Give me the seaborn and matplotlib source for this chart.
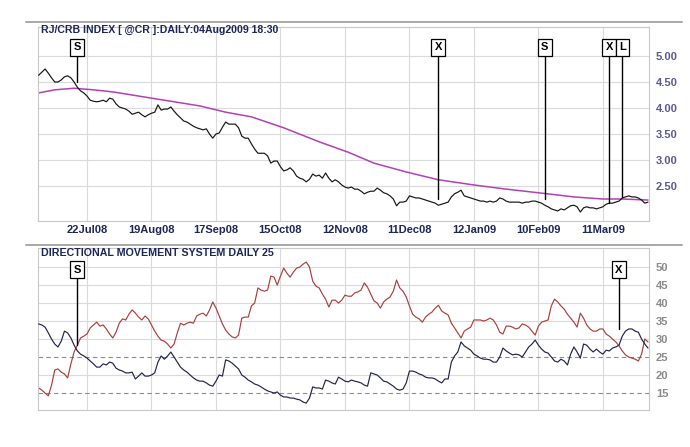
import numpy as np
import pandas as pd
import matplotlib
matplotlib.use("Agg")
import matplotlib.pyplot as plt
from matplotlib.lines import Line2D
import seaborn as sns

# ---------------- data ----------------
price = [4.63, 4.69, 4.75, 4.67, 4.58, 4.50, 4.50, 4.54, 4.60, 4.62,
         4.58, 4.50, 4.40, 4.33, 4.29, 4.23, 4.15, 4.13, 4.12, 4.13,
         4.15, 4.12, 4.19, 4.17, 4.08, 4.02, 4.00, 3.98, 3.94, 3.88,
         3.90, 3.92, 3.87, 3.83, 3.87, 3.90, 3.92, 4.06, 3.96, 3.98,
         3.98, 4.02, 3.94, 3.87, 3.81, 3.75, 3.73, 3.69, 3.65, 3.62,
         3.60, 3.58, 3.60, 3.50, 3.42, 3.50, 3.52, 3.63, 3.73, 3.69,
         3.69, 3.69, 3.62, 3.46, 3.42, 3.42, 3.31, 3.21, 3.13, 3.13,
         3.13, 3.08, 2.94, 2.98, 2.98, 2.87, 2.79, 2.81, 2.85, 2.79,
         2.69, 2.65, 2.63, 2.58, 2.63, 2.73, 2.69, 2.71, 2.65, 2.75,
         2.65, 2.58, 2.62, 2.58, 2.52, 2.48, 2.46, 2.48, 2.44, 2.44,
         2.40, 2.35, 2.38, 2.40, 2.40, 2.46, 2.42, 2.37, 2.35, 2.31,
         2.25, 2.12, 2.19, 2.19, 2.21, 2.31, 2.29, 2.27, 2.27, 2.25,
         2.23, 2.21, 2.19, 2.17, 2.13, 2.15, 2.17, 2.19, 2.29, 2.35,
         2.38, 2.42, 2.31, 2.29, 2.27, 2.25, 2.23, 2.21, 2.21, 2.19,
         2.21, 2.19, 2.21, 2.27, 2.25, 2.21, 2.19, 2.19, 2.19, 2.19,
         2.17, 2.19, 2.19, 2.21, 2.21, 2.19, 2.17, 2.13, 2.10, 2.06,
         2.04, 2.02, 2.06, 2.04, 2.08, 2.12, 2.13, 2.10, 2.00, 2.08,
         2.10, 2.08, 2.08, 2.06, 2.08, 2.10, 2.15, 2.17, 2.17, 2.19,
         2.21, 2.27, 2.29, 2.31, 2.29, 2.29, 2.27, 2.23, 2.17, 2.19]

ma_bars = [0, 5, 11, 17, 23, 35, 50, 58, 66, 76, 87, 96, 104, 114, 124,
           135, 145, 155, 166, 175, 181, 189]
ma_vals = [4.29, 4.35, 4.38, 4.35, 4.31, 4.19, 4.04, 3.92, 3.83, 3.62, 3.35,
           3.15, 2.94, 2.77, 2.62, 2.52, 2.44, 2.37, 2.29, 2.25, 2.25, 2.23]

di_red = [16.4, 15.8, 15.0, 14.2, 17.2, 21.4, 21.7, 20.8, 20.3, 19.2,
          23.1, 26.4, 28.3, 30.3, 30.8, 31.4, 33.1, 33.9, 34.7, 33.6,
          33.9, 32.8, 31.4, 30.3, 31.9, 34.4, 35.6, 35.3, 36.9, 38.1,
          37.2, 36.1, 35.3, 36.4, 35.6, 33.9, 32.2, 30.8, 29.7, 29.4,
          28.6, 27.5, 28.6, 31.7, 34.4, 33.9, 34.4, 34.7, 34.4, 36.4,
          36.9, 37.2, 36.4, 38.1, 40.3, 38.6, 36.4, 34.2, 32.5, 31.4,
          30.6, 30.3, 31.1, 35.8, 36.1, 36.1, 39.2, 40.0, 44.2, 43.6,
          43.3, 43.6, 47.5, 47.2, 45.0, 47.5, 49.7, 48.3, 47.2, 48.6,
          49.7, 50.0, 50.8, 51.4, 50.0, 46.1, 44.7, 44.2, 42.5, 41.1,
          38.9, 40.8, 40.8, 40.0, 40.8, 42.2, 41.9, 41.9, 42.8, 43.1,
          43.6, 45.6, 44.4, 42.5, 40.6, 40.0, 38.6, 40.3, 41.1, 41.7,
          43.3, 46.4, 44.2, 43.3, 41.7, 39.2, 36.9, 36.1, 35.6, 34.7,
          36.1, 36.9, 37.5, 38.6, 39.4, 37.8, 37.2, 36.7, 34.4, 33.1,
          31.7, 30.3, 32.2, 32.8, 33.3, 35.3, 35.3, 35.3, 35.0, 35.3,
          35.8, 35.3, 33.9, 31.9, 31.4, 33.6, 33.6, 33.3, 32.8, 33.1,
          34.2, 33.9, 33.3, 32.2, 31.1, 33.6, 34.7, 35.0, 35.3, 39.2,
          41.1, 40.3, 39.2, 38.3, 36.9, 35.8, 34.7, 33.3, 37.2, 35.8,
          33.9, 32.8, 32.2, 32.2, 32.8, 32.8, 31.4, 30.8, 30.0, 29.2,
          28.1, 26.7, 25.6, 25.0, 24.7, 24.4, 23.9, 25.8, 30.0, 29.2]

di_navy = [34.2, 33.9, 33.3, 31.7, 30.0, 28.6, 27.8, 29.4, 32.2, 31.7,
           30.3, 28.3, 26.7, 25.8, 25.3, 24.7, 23.9, 23.1, 22.2, 22.2,
           23.1, 22.8, 23.6, 23.3, 21.9, 21.4, 21.1, 20.6, 20.6, 20.8,
           18.9, 19.7, 20.6, 19.7, 19.7, 20.0, 20.6, 23.6, 25.3, 24.4,
           25.3, 26.4, 25.0, 23.6, 22.2, 21.4, 20.8, 20.0, 19.2, 18.6,
           18.3, 18.3, 17.8, 17.2, 16.9, 18.3, 20.0, 19.7, 24.2, 23.9,
           23.3, 22.5, 21.7, 20.0, 19.4, 18.6, 18.1, 17.5, 17.2, 16.7,
           16.1, 15.6, 15.3, 15.0, 15.3, 14.4, 13.9, 13.9, 13.6, 13.6,
           13.3, 13.1, 12.5, 12.2, 13.6, 16.7, 16.4, 16.4, 16.1, 18.6,
           18.3, 17.8, 17.5, 19.4, 18.9, 18.3, 18.1, 18.6, 18.3, 18.1,
           17.8, 17.2, 16.9, 20.6, 20.3, 20.0, 19.2, 18.3, 18.1, 17.5,
           16.9, 16.1, 15.8, 16.1, 17.8, 21.1, 21.1, 20.8, 20.3, 20.0,
           19.4, 19.2, 19.2, 18.9, 18.3, 17.8, 18.9, 18.9, 23.6, 25.3,
           26.4, 29.2, 28.1, 27.5, 26.9, 25.8, 25.3, 24.7, 24.4, 24.4,
           24.2, 23.6, 23.6, 25.0, 27.5, 26.7, 26.1, 25.6, 25.8, 25.6,
           25.0, 26.4, 27.8, 28.6, 29.7, 28.3, 27.2, 26.4, 26.1, 25.0,
           23.9, 23.6, 24.4, 23.9, 22.8, 25.8, 27.8, 26.4, 24.7, 28.6,
           28.3, 27.2, 26.4, 27.2, 26.4, 25.8, 26.9, 26.7, 27.5, 27.8,
           28.3, 30.8, 32.2, 32.8, 32.8, 32.2, 31.9, 30.0, 28.6, 27.5]

date_labels = ["22Jul08", "19Aug08", "17Sep08", "15Oct08", "12Nov08",
               "11Dec08", "12Jan09", "10Feb09", "11Mar09"]
date_bars = [15, 35, 55, 75, 95, 115, 135, 155, 175]

price_ticks = [2.5, 3.0, 3.5, 4.0, 4.5, 5.0]
dms_ticks = [15, 20, 25, 30, 35, 40, 45, 50]

sig_top_letters = ["S", "X", "S", "X", "L"]
sig_top_bars = [12, 124, 157, 177, 181]
sig_top_ends = [4.50, 2.25, 2.25, 2.17, 2.29]

sig_low_letters = ["S", "X"]
sig_low_bars = [12, 180]
sig_low_ends = [28.3, 32.8]

title_top = "RJ/CRB INDEX [ @CR ]:DAILY:04Aug2009 18:30"
title_low = "DIRECTIONAL MOVEMENT SYSTEM DAILY 25"

# ---------------- styling ----------------
sns.set_style("white")
plt.rcParams["font.family"] = ["Liberation Sans", "DejaVu Sans"]

W, H = 690, 447
fig = plt.figure(figsize=(W / 100, H / 100), dpi=100)
fig.patch.set_facecolor("white")

def fx(px):
    return px / W

def fy(py):
    return 1 - py / H

ax1 = fig.add_axes([fx(38), fy(221), fx(611), 194 / H])
ax2 = fig.add_axes([fx(38), fy(410), fx(611), 162 / H])

df = pd.DataFrame({"bar": np.arange(len(price)), "price": price,
                   "red": di_red, "navy": di_navy})
ma_df = pd.DataFrame({"bar": ma_bars, "ma": ma_vals})

grid_c = "#dadada"
NAVY_TXT = "#1e2658"

for ax in (ax1, ax2):
    for s in ax.spines.values():
        s.set_color("#c8c8c8")
        s.set_linewidth(0.8)
    ax.set_xlim(-0.2, 189.3)
    ax.set_xticks(date_bars)
    ax.tick_params(axis="both", length=0)
    ax.yaxis.tick_right()
    for b in date_bars:
        ax.axvline(b, color=grid_c, lw=0.8, zorder=0)

# top panel
for v in price_ticks:
    ax1.axhline(v, color=grid_c, lw=0.8, zorder=0)
sns.lineplot(data=ma_df, x="bar", y="ma", ax=ax1, color="#b440b4", lw=1.1,
             zorder=2)
sns.lineplot(data=df, x="bar", y="price", ax=ax1, color="#141414", lw=0.85,
             zorder=3)
ax1.set_ylim(1.827, 5.558)
ax1.set_yticks(price_ticks)
ax1.set_yticklabels([f"{v:.2f}" for v in price_ticks])
ax1.set_xticklabels(date_labels)
ax1.tick_params(axis="x", pad=3, labelsize=8, labelcolor=NAVY_TXT)
ax1.tick_params(axis="y", pad=5, labelsize=8, labelcolor="#5a5a8c")
for lab in ax1.get_xticklabels() + ax1.get_yticklabels():
    lab.set_fontweight("bold")
ax1.set_xlabel("")
ax1.set_ylabel("")

for letter, b, e in zip(sig_top_letters, sig_top_bars, sig_top_ends):
    ax1.plot([b, b], [e, 5.17], color="black", lw=1.0, zorder=4)
    ax1.text(b, 5.17, letter, ha="center", va="center", fontsize=8,
             fontweight="bold", color="black", zorder=5,
             bbox=dict(boxstyle="square,pad=0.3", fc="white", ec="black",
                       lw=0.9))

# lower panel
for v in dms_ticks:
    if v in (15, 25):
        ax2.axhline(v, color="#8c8c8c", lw=0.8, ls=(0, (4, 3)), zorder=0)
    else:
        ax2.axhline(v, color=grid_c, lw=0.8, zorder=0)
sns.lineplot(data=df, x="bar", y="red", ax=ax2, color="#a8403c", lw=0.85,
             zorder=2)
sns.lineplot(data=df, x="bar", y="navy", ax=ax2, color="#22224e", lw=0.85,
             zorder=3)
ax2.set_ylim(10.28, 55.3)
ax2.set_yticks(dms_ticks)
ax2.set_yticklabels([str(v) for v in dms_ticks])
ax2.set_xticklabels([])
ax2.tick_params(axis="y", pad=5, labelsize=8, labelcolor="#8a8a8a")
for lab in ax2.get_yticklabels():
    lab.set_fontweight("bold")
ax2.set_xlabel("")
ax2.set_ylabel("")

for letter, b, e in zip(sig_low_letters, sig_low_bars, sig_low_ends):
    ax2.plot([b, b], [e, 49.3], color="black", lw=1.0, zorder=4)
    ax2.text(b, 49.3, letter, ha="center", va="center", fontsize=8,
             fontweight="bold", color="black", zorder=5,
             bbox=dict(boxstyle="square,pad=0.3", fc="white", ec="black",
                       lw=0.9))

# titles and panel separators
fig.text(fx(41), fy(30), title_top, ha="left", va="center", fontsize=7.6,
         fontweight="bold", color=NAVY_TXT)
fig.text(fx(41), fy(253), title_low, ha="left", va="center", fontsize=7.7,
         fontweight="bold", color=NAVY_TXT)
for py in (22, 245):
    fig.add_artist(Line2D([fx(26), fx(682)], [fy(py), fy(py)],
                          color="#a8a8a8", lw=1.4))

fig.savefig("out.png", dpi=100)
